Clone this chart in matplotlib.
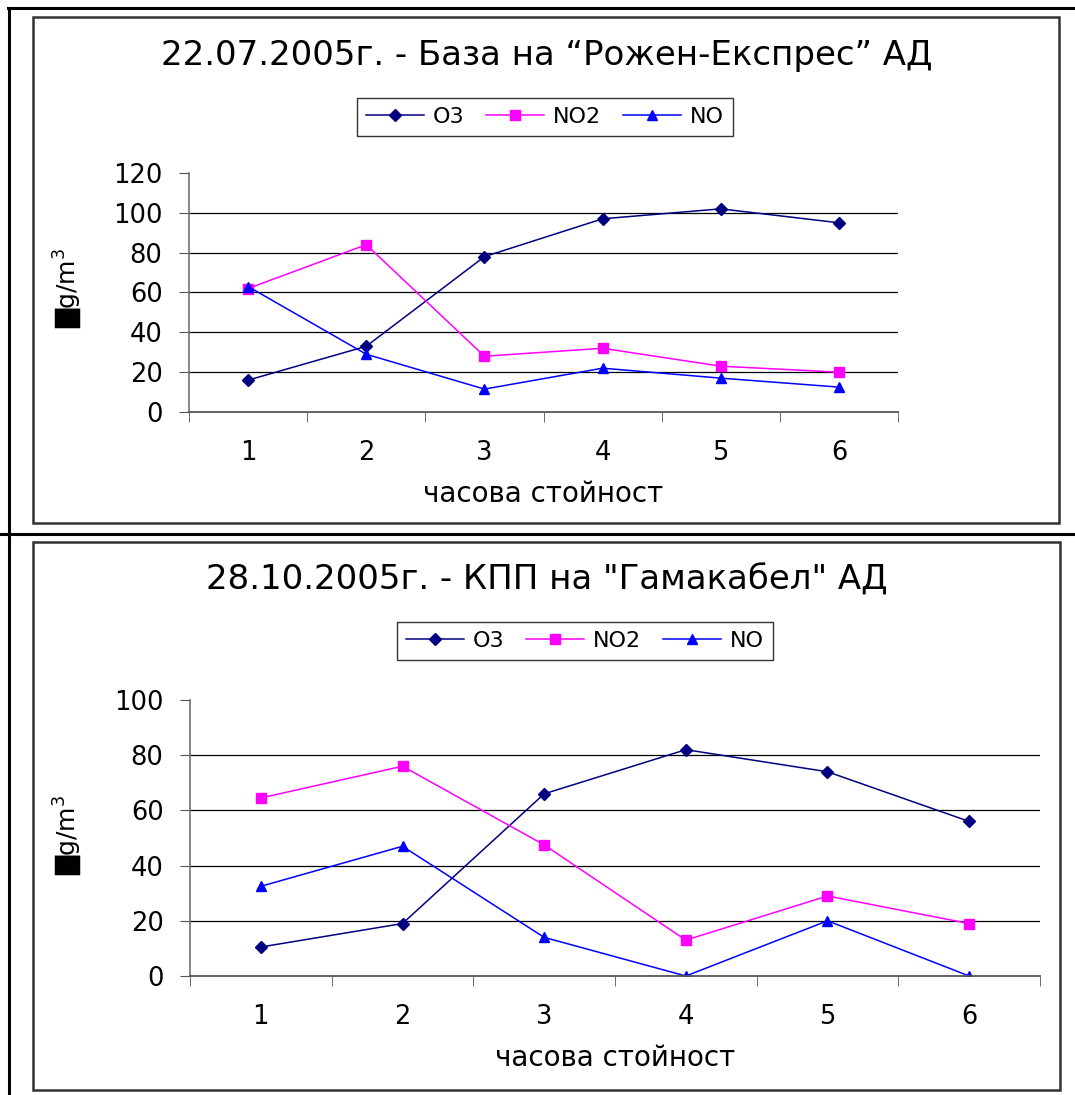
import matplotlib.pyplot as plt
from matplotlib.patches import Rectangle
from matplotlib.lines import Line2D

plt.rcParams['font.family'] = ['DejaVu Sans']
plt.rcParams['mathtext.fontset'] = 'dejavusans'

hours = [1, 2, 3, 4, 5, 6]
series_names = ['O3', 'NO2', 'NO']

title1 = '22.07.2005г. - База на “Рожен-Експрес” АД'
o3_1 = [16, 33, 78, 97, 102, 95]
no2_1 = [62, 84, 28, 32, 23, 20]
no_1 = [63, 29, 11.5, 22, 17, 12.5]

title2 = '28.10.2005г. - КПП на "Гамакабел" АД'
o3_2 = [10.5, 19, 66, 82, 74, 56]
no2_2 = [64.5, 76, 47.5, 13, 29, 19]
no_2 = [32.5, 47, 14, 0, 20, 0]

xlabel = 'часова стойност'
ylabel = '█g/m$^{3}$'

colors = ['#000080', '#FF00FF', '#0000FF']
markers = ['D', 's', '^']
msizes = [6, 6.5, 7.5]

W, H = 1075, 1095
fig = plt.figure(figsize=(W / 100, H / 100), dpi=100)


def fx(px):
    return px / W


def fy(py):
    return 1 - py / H


# внешние линии рамки
fig.add_artist(Line2D([fx(8), fx(1075)], [fy(8), fy(8)], color='black', lw=2.2))
fig.add_artist(Line2D([fx(9), fx(9)], [fy(8), fy(1095)], color='black', lw=2.2))
fig.add_artist(Line2D([fx(0), fx(1075)], [fy(534), fy(534)], color='black', lw=2.2))

# рамки диаграмм
for (x0, y0, x1, y1) in [(33, 17, 1059, 523), (33, 542, 1060, 1090)]:
    fig.add_artist(Rectangle((fx(x0), fy(y1)), fx(x1 - x0), (y1 - y0) / H,
                             fill=False, edgecolor='#333333', lw=1.8))


def draw_chart(rect, title, data, ymax, title_y, leg_center, ylab_xy):
    left, top, right, bottom = rect
    ax = fig.add_axes([fx(left), fy(bottom), fx(right - left), (bottom - top) / H])
    for vals, name, c, m, ms in zip(data, series_names, colors, markers, msizes):
        ax.plot(hours, vals, color=c, marker=m, markersize=ms, lw=1.1, label=name,
                markerfacecolor=c, markeredgecolor=c)
    ax.set_xlim(0.5, 6.5)
    ax.set_ylim(0, ymax)
    ticks = list(range(0, ymax + 1, 20))
    ax.set_yticks(ticks)
    for t in ticks[1:-1]:
        ax.axhline(t, color='black', lw=0.9, zorder=0)
    ax.set_xticks(hours)
    ax.set_xticks([h + 0.5 for h in [0] + hours], minor=True)
    ax.tick_params(axis='x', which='major', length=0, pad=20, labelsize=18.5)
    ax.tick_params(axis='x', which='minor', length=7, color='#555555', direction='out')
    ax.tick_params(axis='y', length=7, color='#555555', direction='out', pad=12, labelsize=18.5)
    for s in ['top', 'right']:
        ax.spines[s].set_visible(False)
    ax.spines['left'].set_color('#666666')
    ax.spines['bottom'].set_color('#555555')
    ax.spines['left'].set_linewidth(1.1)
    ax.spines['bottom'].set_linewidth(1.3)
    ax.set_xlabel(xlabel, fontsize=20, labelpad=10)
    fig.text(0.5 * (fx(33) + fx(1060)), fy(title_y), title, ha='center', va='center', fontsize=24.5)
    fig.text(fx(ylab_xy[0]), fy(ylab_xy[1]), ylabel, rotation=90, ha='center', va='center',
             fontsize=18)
    leg = ax.legend(loc='center', bbox_to_anchor=(fx(leg_center[0]), fy(leg_center[1])),
                    bbox_transform=fig.transFigure, ncol=3, fontsize=16, frameon=True,
                    fancybox=False, edgecolor='black', handlelength=2.6, columnspacing=1.0,
                    handletextpad=0.4, borderpad=0.4)
    leg.get_frame().set_linewidth(1.0)
    return ax


draw_chart((189, 173, 898, 412), title1, [o3_1, no2_1, no_1], 120, 55, (545, 117), (68, 288))
draw_chart((190, 700, 1040, 976), title2, [o3_2, no2_2, no_2], 100, 580, (585, 641), (68, 835))

fig.savefig('out.png', dpi=100)
